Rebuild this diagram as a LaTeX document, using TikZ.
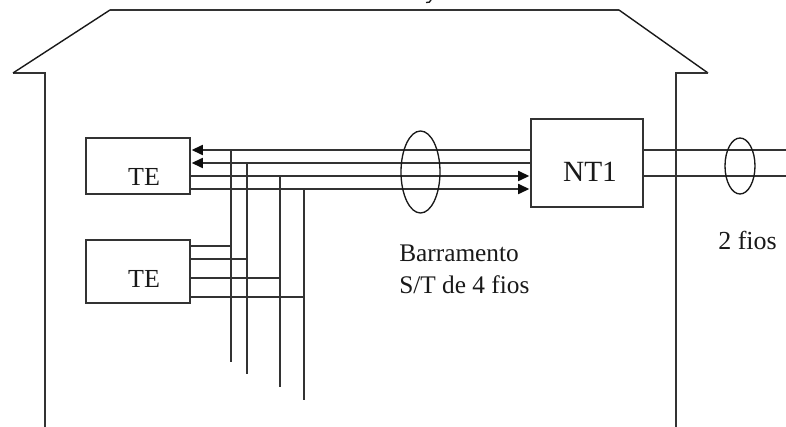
\documentclass[tikz,border=0pt]{standalone}
\usepackage{fontspec}
\setmainfont{Liberation Serif}
\usetikzlibrary{arrows.meta,shapes.geometric}
\tikzset{
  px/.style={x=0.75pt,y=-0.75pt},
  line/.style={draw=black!80,line width=1.55pt},
  slant/.style={draw=black!90,line width=1.05pt},
  thinline/.style={draw=black!90,line width=1pt},
  box/.style={line,rectangle,inner sep=0pt,outer sep=0pt,anchor=north west},
  ring/.style={thinline,ellipse,inner sep=0pt},
  lbl/.style={inner sep=0pt,text=black!90,anchor=base},
  small/.style={lbl,anchor=base west,font=\fontsize{19pt}{24pt}\selectfont},
  tip/.style={-{Triangle[length=8.5pt,width=7.5pt,inset=0pt,color=black!95]},shorten >=1.2pt}
}
\begin{document}
\begin{tikzpicture}[px]
\useasboundingbox (0,0) rectangle (786,427);
% house
\coordinate (h1) at (45,427); \coordinate (h2) at (45,73); \coordinate (h3) at (13,73);
\coordinate (h4) at (110,10); \coordinate (h5) at (619,10); \coordinate (h6) at (708,73);
\coordinate (h7) at (676,73); \coordinate (h8) at (676,427);
\draw[line] (h1)--(h2)--(h3);
\draw[slant] (h3)--(h4);
\draw[line] (h4)--(h5);
\draw[slant] (h5)--(h6);
\draw[line] (h6)--(h7)--(h8);
% boxes
\node[box,minimum width=78pt,minimum height=42pt] (te1) at (86,138) {};
\node[box,minimum width=78pt,minimum height=47.25pt] (te2) at (86,240) {};
\node[box,minimum width=84pt,minimum height=66pt] (nt) at (531,119) {};
% labels
\node[lbl,font=\fontsize{19.5pt}{24pt}\selectfont] (l1) at (144,186) {TE};
\node[lbl,font=\fontsize{19.5pt}{24pt}\selectfont] (l2) at (144,288) {TE};
\node[lbl,font=\fontsize{22pt}{26pt}\selectfont] (l3) at (590,181.5) {NT1};
\node[small] (l4) at (399,262) {Barramento};
\node[small] (l4b) at (399,294) {S/T de 4 fios};
\node[small,font=\fontsize{19.5pt}{24pt}\selectfont] (l5) at (718,250) {2 fios};
% bus: vertical wire ends
\coordinate (a) at (231,150); \coordinate (a2) at (231,362);
\coordinate (b) at (247,163); \coordinate (b2) at (247,374);
\coordinate (c) at (280,176); \coordinate (c2) at (280,387);
\coordinate (d) at (304,189); \coordinate (d2) at (304,400);
\draw[line] (a)--(a2); \draw[line] (b)--(b2); \draw[line] (c)--(c2); \draw[line] (d)--(d2);
% bus horizontals
\draw[line,tip] (nt.west |- a) -- (te1.east |- a);
\draw[line,tip] (nt.west |- b) -- (te1.east |- b);
\draw[line,tip] (te1.east |- c) -- (nt.west |- c);
\draw[line,tip] (te1.east |- d) -- (nt.west |- d);
% second TE stubs
\coordinate (s1) at (231,246); \coordinate (s2) at (247,259);
\coordinate (s3) at (280,278); \coordinate (s4) at (304,297);
\draw[line] (te2.east |- s1) -- (s1);
\draw[line] (te2.east |- s2) -- (s2);
\draw[line] (te2.east |- s3) -- (s3);
\draw[line] (te2.east |- s4) -- (s4);
% outgoing pair
\coordinate (r1) at (786,150); \coordinate (r2) at (786,176);
\draw[line] (nt.east |- r1) -- (r1);
\draw[line] (nt.east |- r2) -- (r2);
% rings
\node[ring,minimum width=29.25pt,minimum height=61.5pt] (e1) at (420.5,172) {};
\node[ring,minimum width=22.5pt,minimum height=42pt] (e2) at (740,166) {};
% clipped descender at the top edge
\draw[thinline] (431,0) .. controls (430,2) and (429,3) .. (426,2.5);
\end{tikzpicture}
\end{document}
